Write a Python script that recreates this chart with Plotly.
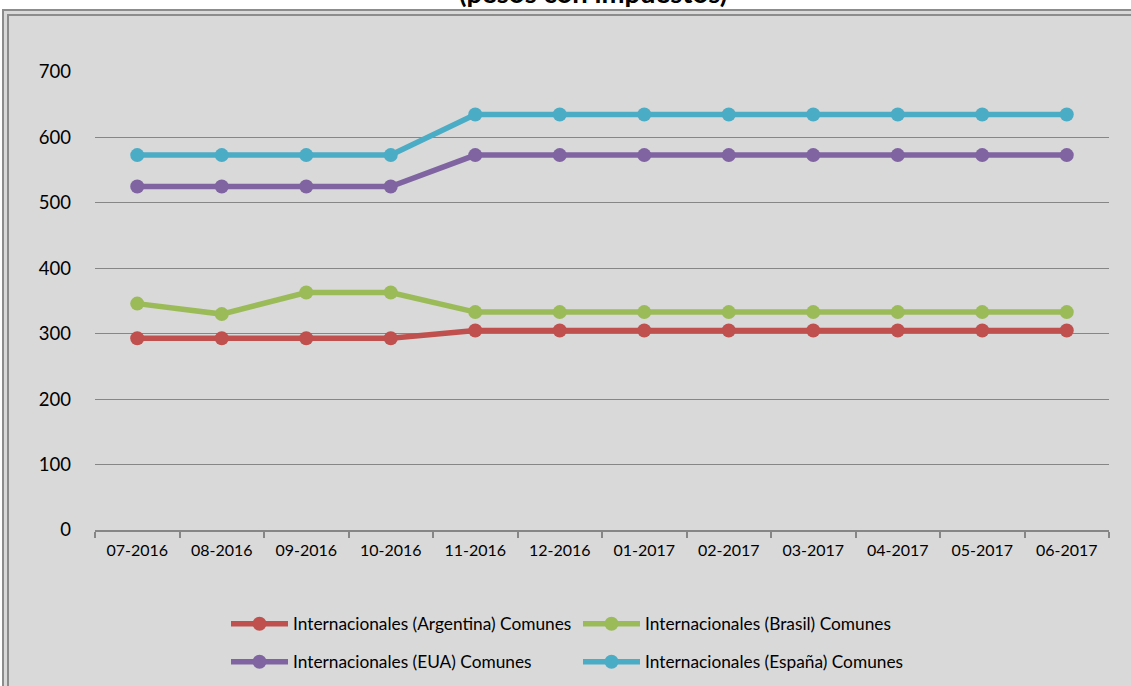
import plotly.graph_objects as go

months = ["07-2016", "08-2016", "09-2016", "10-2016", "11-2016", "12-2016",
          "01-2017", "02-2017", "03-2017", "04-2017", "05-2017", "06-2017"]
argentina = [293, 293, 293, 293, 305, 305, 305, 305, 305, 305, 305, 305]
brasil = [346, 330, 363, 363, 333, 333, 333, 333, 333, 333, 333, 333]
eua = [525, 525, 525, 525, 573, 573, 573, 573, 573, 573, 573, 573]
espana = [573, 573, 573, 573, 635, 635, 635, 635, 635, 635, 635, 635]
y_ticks = [0, 100, 200, 300, 400, 500, 600, 700]

series = [
    ("Internacionales (Argentina) Comunes", argentina, "#C0504D", "legend"),
    ("Internacionales (Brasil) Comunes", brasil, "#9BBB59", "legend"),
    ("Internacionales (EUA) Comunes", eua, "#8064A2", "legend2"),
    ("Internacionales (España) Comunes", espana, "#4BACC6", "legend2"),
]

W, H = 1131, 686
L, R, T, B = 95, 1109, 72, 530

def px(x):
    return (x - L) / (R - L)

def py(y):
    return (B - y) / (B - T)

FONT = "Lato"

fig = go.Figure()
for name, vals, color, lg in series:
    fig.add_trace(go.Scatter(
        x=months, y=vals, name=name, mode="lines+markers",
        line=dict(color=color, width=5.5),
        marker=dict(color=color, size=14),
        legend=lg,
    ))

leg_common = dict(orientation="h", xanchor="left", yanchor="middle",
                  entrywidth=280, entrywidthmode="pixels", bgcolor="rgba(0,0,0,0)",
                  font=dict(size=17.3, family=FONT), itemwidth=57)

fig.update_layout(
    width=W, height=H,
    margin=dict(l=L, r=W - R, t=T, b=H - B, autoexpand=False),
    paper_bgcolor="white",
    plot_bgcolor="rgba(0,0,0,0)",
    font=dict(family=FONT, color="#000000"),
    showlegend=True,
    legend=dict(x=px(226), y=py(624), **leg_common),
    legend2=dict(x=px(226), y=py(662), **leg_common),
    shapes=[
        dict(type="rect", xref="paper", yref="paper", layer="below",
             x0=px(3), x1=px(1145), y0=py(10), y1=py(700),
             fillcolor="#D9D9D9", line=dict(color="#8C8C8C", width=2)),
        dict(type="rect", xref="paper", yref="paper", layer="below",
             x0=px(8), x1=px(1140), y0=py(15), y1=py(695),
             fillcolor="rgba(0,0,0,0)", line=dict(color="#8C8C8C", width=2)),
    ],
    annotations=[
        dict(text="<b>(pesos con impuestos)</b>", xref="paper", yref="paper",
             x=px(593), y=py(-8), xanchor="center", yanchor="middle",
             showarrow=False, font=dict(size=27.5, family=FONT, color="#000000")),
    ],
)

fig.update_xaxes(
    type="category", range=[-0.5, len(months) - 0.5],
    showline=True, linecolor="#868686", linewidth=1.5,
    ticks="outside", tickson="boundaries", ticklen=6, tickcolor="#868686", tickwidth=1.5,
    showgrid=False, tickfont=dict(size=16, family=FONT), ticklabelstandoff=5,
)
fig.update_yaxes(
    range=[0, 700], tickvals=y_ticks, showgrid=True, gridcolor="#868686", gridwidth=1.3,
    zeroline=False, showline=False, ticks="", tickfont=dict(size=18.5, family=FONT),
    ticklabelstandoff=23,
)

fig.write_html("out.html", config={"displayModeBar": False},
               post_script="document.body.style.margin='0';")
